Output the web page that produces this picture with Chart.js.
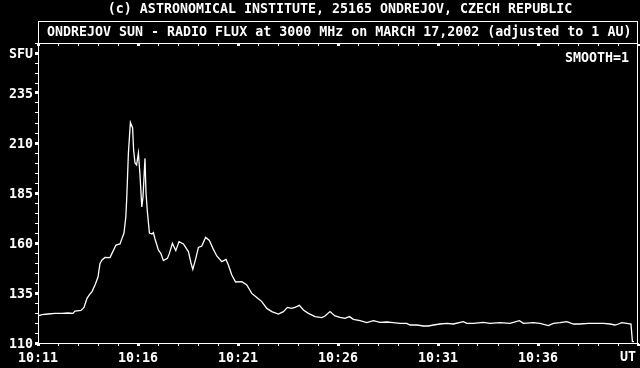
<!DOCTYPE html>
<html>
<head>
<meta charset="utf-8">
<script src="https://cdn.jsdelivr.net/npm/chart.js@4/dist/chart.umd.min.js"></script>
<style>
  body { margin: 0; background: #000; }
  canvas { display: block; }
</style>
</head>
<body>
<canvas id="chart" width="640" height="368"></canvas>
<script>
// minutes after 10:00 UT
var times = [
  11.00, 11.20, 11.50, 11.85, 12.20, 12.50, 12.75, 12.85, 13.15, 13.30,
  13.45, 13.60, 13.70, 13.85, 14.00, 14.10, 14.20, 14.35, 14.60, 14.70,
  14.90, 15.10, 15.20, 15.30, 15.39, 15.44, 15.52, 15.62, 15.73, 15.78,
  15.85, 15.93, 16.02, 16.10, 16.19, 16.25, 16.35, 16.40, 16.47, 16.57,
  16.70, 16.77, 16.85, 17.02, 17.14, 17.27, 17.47, 17.57, 17.72, 17.89,
  18.05, 18.27, 18.52, 18.65, 18.74, 18.89, 19.02, 19.19, 19.38, 19.57,
  19.77, 19.94, 20.19, 20.40, 20.52, 20.69, 20.88, 21.19, 21.44, 21.69,
  21.94, 22.19, 22.44, 22.69, 23.02, 23.27, 23.47, 23.69, 23.85, 24.07,
  24.27, 24.52, 24.85, 25.19, 25.35, 25.60, 25.85, 26.10, 26.35, 26.57,
  26.77, 27.10, 27.44, 27.77, 28.10, 28.44, 28.77, 29.10, 29.44, 29.60,
  29.94, 30.27, 30.52, 30.77, 31.10, 31.44, 31.77, 32.27, 32.44, 32.77,
  33.27, 33.60, 34.10, 34.60, 35.07, 35.27, 35.77, 36.10, 36.52, 36.77,
  37.10, 37.44, 37.77, 38.10, 38.52, 38.85, 39.27, 39.60, 39.85, 40.02,
  40.19, 40.44, 40.65, 40.72, 40.80
];
var flux = [
  123.5, 124.2, 124.5, 124.8, 124.8, 125.0, 124.8, 126.0, 126.3, 127.8,
  132.3, 134.5, 135.7, 139.0, 143.0, 149.8, 151.5, 152.8, 152.7, 154.8,
  159.0, 159.5, 162.3, 165.0, 173.0, 183.0, 205.0, 220.3, 217.5, 206.5,
  200.0, 199.0, 205.0, 194.0, 178.0, 183.0, 202.3, 185.0, 175.5, 165.0,
  164.5, 165.2, 162.0, 156.5, 154.8, 151.2, 152.3, 154.8, 159.8, 156.2,
  160.7, 159.5, 155.7, 150.0, 146.8, 152.3, 157.8, 158.5, 162.8, 161.3,
  156.8, 153.5, 150.7, 151.8, 149.0, 144.0, 140.5, 140.7, 139.0, 134.8,
  132.8, 130.7, 127.3, 125.7, 124.5, 125.7, 127.8, 127.3, 127.8, 128.8,
  126.5, 124.8, 123.2, 122.7, 123.5, 125.7, 123.5, 122.8, 122.3, 123.2,
  121.8, 121.2, 120.2, 121.2, 120.3, 120.5, 120.2, 119.8, 119.8, 119.0,
  119.0, 118.5, 118.5, 119.0, 119.5, 119.8, 119.5, 120.7, 119.8, 119.8,
  120.3, 119.8, 120.2, 119.8, 121.2, 119.8, 120.2, 119.8, 118.7, 119.8,
  120.2, 120.7, 119.5, 119.5, 119.8, 119.8, 119.8, 119.5, 119.0, 119.5,
  120.2, 119.8, 119.5, 110.7, 110.7
];

var xTickValues = [11, 16, 21, 26, 31, 36, 41];
var xTickLabels = ['10:11', '10:16', '10:21', '10:26', '10:31', '10:36', 'UT'];
var yTickValues = [110, 135, 160, 185, 210, 235, 255];
var yTickLabels = ['110', '135', '160', '185', '210', '235', 'SFU'];

var title1 = '(c) ASTRONOMICAL INSTITUTE, 25165 ONDREJOV, CZECH REPUBLIC';
var title2 = 'ONDREJOV SUN - RADIO FLUX at 3000 MHz on MARCH 17,2002 (adjusted to 1 AU)';
var smoothText = 'SMOOTH=1';

var FONT = 'bold 13.3px "DejaVu Sans Mono", monospace';
var tickFont = { family: '"DejaVu Sans Mono", monospace', size: 13.3, weight: 'bold' };

var points = times.map(function(t, i){ return {x: t, y: flux[i]}; });

var decor = {
  id: 'decor',
  beforeDraw: function(chart){
    var c = chart.ctx;
    c.save();
    c.fillStyle = '#000';
    c.fillRect(0, 0, chart.width, chart.height);
    c.restore();
  },
  afterDraw: function(chart){
    var c = chart.ctx, a = chart.chartArea, xs = chart.scales.x;
    c.save();
    c.strokeStyle = '#fff';
    c.fillStyle = '#fff';
    c.lineWidth = 1;
    // plot frame and title box
    c.strokeRect(Math.round(a.left) + 0.5, Math.round(a.top) + 0.5, Math.round(a.right - a.left) - 1, Math.round(a.bottom - a.top));
    c.strokeRect(Math.round(a.left) + 0.5, 21.5, Math.round(a.right - a.left) - 1, Math.round(a.top) - 21);
    // minute ticks along the top edge
    xs.ticks.forEach(function(t){
      var px = Math.round(xs.getPixelForValue(t.value));
      var w = xTickValues.indexOf(t.value) >= 0 ? 3 : 1;
      c.fillRect(px - Math.floor(w / 2), Math.round(a.top) + 1, w, 2);
    });
    c.font = FONT;
    c.textBaseline = 'middle';
    c.textAlign = 'center';
    c.fillText(title1, 340, 10);
    c.textAlign = 'left';
    c.fillText(title2, a.left + 9, 33);
    c.textAlign = 'right';
    c.fillText(smoothText, a.right - 9, 59);
    c.fillText(xTickLabels[xTickLabels.length - 1], a.right - 2, 358);
    c.restore();
  }
};

new Chart(document.getElementById('chart').getContext('2d'), {
  type: 'line',
  data: {
    datasets: [{
      data: points,
      borderColor: '#fff',
      borderWidth: 1.3,
      pointRadius: 0,
      tension: 0,
      fill: false
    }]
  },
  options: {
    responsive: false,
    animation: false,
    events: [],
    layout: { padding: { top: 43, right: 2, left: 0, bottom: 0 } },
    plugins: { legend: { display: false }, tooltip: { enabled: false } },
    scales: {
      x: {
        type: 'linear',
        min: 11,
        max: 41,
        afterFit: function(s){ s.height = 25; s.paddingLeft = 0; s.paddingRight = 0; },
        border: { color: '#fff', width: 1 },
        grid: {
          drawOnChartArea: false,
          tickLength: 3,
          tickColor: '#fff',
          tickWidth: function(ctx){ return xTickValues.indexOf(ctx.tick.value) >= 0 ? 3 : 1; }
        },
        ticks: {
          stepSize: 1,
          autoSkip: false,
          maxRotation: 0,
          padding: 5,
          color: '#fff',
          font: tickFont,
          callback: function(v){
            var i = xTickValues.indexOf(v);
            return (i >= 0 && i < xTickValues.length - 1) ? xTickLabels[i] : '';
          }
        }
      },
      y: {
        min: 110,
        max: 260,
        afterFit: function(s){ s.width = 38; s.paddingTop = 0; s.paddingBottom = 0; },
        border: { color: '#fff', width: 1 },
        grid: {
          drawOnChartArea: false,
          tickLength: 3,
          tickColor: '#fff',
          tickWidth: function(ctx){ return yTickValues.indexOf(ctx.tick.value) >= 0 ? 3 : 1; }
        },
        ticks: {
          stepSize: 5,
          autoSkip: false,
          padding: 2,
          labelOffset: 2,
          color: '#fff',
          font: tickFont,
          callback: function(v){
            var i = yTickValues.indexOf(v);
            return i >= 0 ? yTickLabels[i] : '';
          }
        }
      }
    }
  },
  plugins: [decor]
});
</script>
</body>
</html>
